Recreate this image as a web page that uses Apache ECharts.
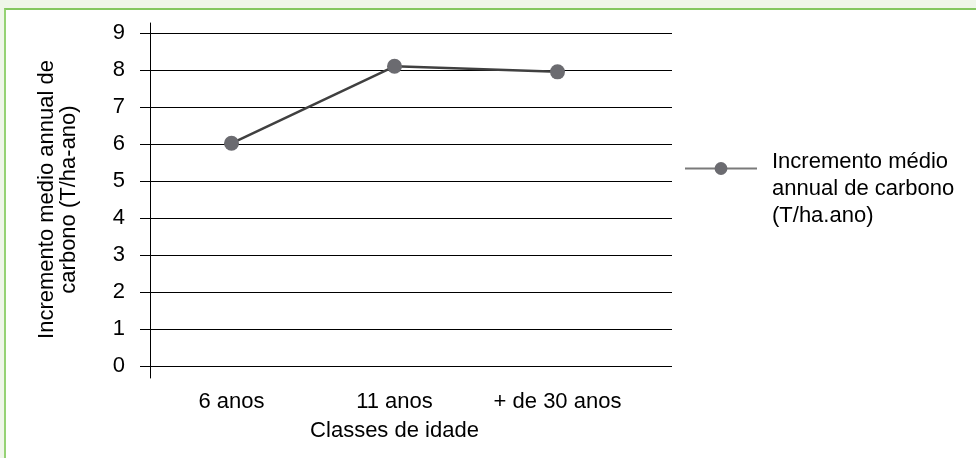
<!DOCTYPE html>
<html>
<head>
<meta charset="utf-8">
<script src="https://cdn.jsdelivr.net/npm/echarts@6/dist/echarts.min.js"></script>
<style>
  html, body { margin: 0; padding: 0; background: #eff6e9; }
  #frame {
    position: absolute; left: 4px; top: 8px; width: 990px; height: 470px;
    background: #ffffff; border-left: 2px solid #95d274; border-top: 2px solid #84c760;
  }
  #chart { position: absolute; left: 0; top: 0; width: 976px; height: 458px; }
</style>
</head>
<body>
<div id="frame"></div>
<div id="chart"></div>
<script>
// Age classes on the horizontal axis
const categories = ['6 anos', '11 anos', '+ de 30 anos'];
// Mean annual carbon increment per age class (T/ha.ano)
const incrementValues = [6.02, 8.1, 7.95];
// Vertical scale
const yMin = 0;
const yMax = 9;
const yStep = 1;

const seriesName = 'Incremento médio\nannual de carbono\n(T/ha.ano)';
const yTitle = 'Incremento medio annual de\ncarbono (T/ha-ano)';
const xTitle = 'Classes de idade';

const FONT = '"Liberation Sans", Arial, Helvetica, sans-serif';
const FS = 22;
const INK = '#000000';

const chart = echarts.init(document.getElementById('chart'), null, { renderer: 'canvas' });

chart.setOption({
  backgroundColor: 'transparent',
  animation: false,
  textStyle: { fontFamily: FONT, color: INK },
  legend: {
    orient: 'vertical',
    left: 684,
    top: 126,
    padding: 0,
    itemWidth: 72,
    itemHeight: 16,
    data: [seriesName],
    lineStyle: { color: '#7a7a7a', width: 2 },
    // a spacer row above the text keeps the key symbol level with the first line
    formatter: function (name) {
      return '{gap| }\n' + name.split('\n').map(function (s) { return '{t|' + s + '}'; }).join('\n');
    },
    textStyle: {
      fontFamily: FONT, fontSize: FS, color: INK, padding: [0, 0, 0, 10],
      rich: {
        gap: { fontSize: 4, lineHeight: 40 },
        t: { fontFamily: FONT, fontSize: FS, color: INK, lineHeight: 27 }
      }
    }
  },
  grid: [
    // gridlines + value labels (lines run past the last category)
    { left: 150, top: 33, width: 522, height: 333 },
    // plotting area of the series
    { left: 150, top: 33, width: 489, height: 333 },
    // vertical axis line, slightly longer than the value range
    { left: 150, top: 23, width: 10, height: 355 }
  ],
  xAxis: [
    { gridIndex: 0, type: 'value', show: false, min: 0, max: 1 },
    {
      gridIndex: 1, type: 'category', data: categories, boundaryGap: true,
      axisLine: { show: false }, axisTick: { show: false },
      axisLabel: { fontFamily: FONT, fontSize: FS, color: INK, margin: 25, interval: 0, hideOverlap: false },
      name: xTitle, nameLocation: 'middle', nameGap: 54,
      nameTextStyle: { fontFamily: FONT, fontSize: FS, color: INK }
    },
    { gridIndex: 2, type: 'value', show: false, min: 0, max: 1 }
  ],
  yAxis: [
    {
      gridIndex: 0, type: 'value', min: yMin, max: yMax, interval: yStep,
      axisLine: { show: false },
      axisTick: { show: true, inside: false, length: 10, lineStyle: { color: INK, width: 1 } },
      axisLabel: { fontFamily: FONT, fontSize: FS, color: INK, margin: 25 },
      splitLine: { show: true, lineStyle: { color: INK, width: 1 } },
      name: yTitle, nameLocation: 'middle', nameRotate: 90, nameGap: 70,
      nameTextStyle: { fontFamily: FONT, fontSize: FS, color: INK, lineHeight: 22, align: 'center' }
    },
    { gridIndex: 1, type: 'value', min: yMin, max: yMax, interval: yStep, show: false },
    {
      gridIndex: 2, type: 'value', min: 0, max: 1,
      axisLine: { show: true, lineStyle: { color: INK, width: 1 } },
      axisTick: { show: false }, axisLabel: { show: false }, splitLine: { show: false }
    }
  ],
  series: [
    {
      name: seriesName,
      type: 'line',
      xAxisIndex: 1,
      yAxisIndex: 1,
      data: incrementValues,
      symbol: 'circle',
      symbolSize: 15,
      lineStyle: { color: '#404040', width: 2.5 },
      itemStyle: { color: '#6b6b70' },
      z: 5
    }
  ]
});
</script>
</body>
</html>
